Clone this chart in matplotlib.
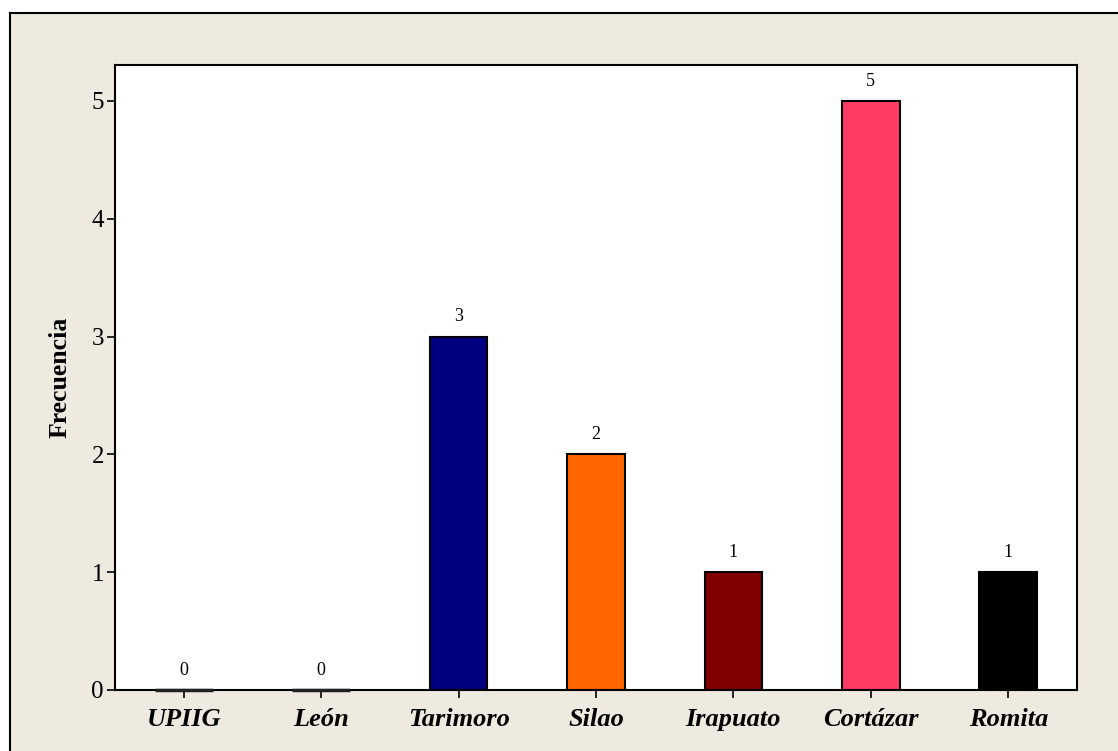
import numpy as np
import matplotlib.pyplot as plt
from matplotlib.patches import Rectangle
from matplotlib.lines import Line2D

plt.rcParams['font.family'] = ['Liberation Serif', 'DejaVu Serif']

municipios = ['UPIIG', 'León', 'Tarimoro', 'Silao', 'Irapuato', 'Cortázar', 'Romita']
frecuencia = [0, 0, 3, 2, 1, 5, 1]
colores = ['#000080', '#000080', '#000080', '#FF6600', '#800000', '#FF3B66', '#000000']

fig = plt.figure(figsize=(11.18, 7.51), dpi=100)
fig.patch.set_facecolor('white')

# beige panel behind the axes, framed on left and top
x0, y1 = 10 / 1118, 1 - 13 / 751
fig.patches.append(Rectangle((x0, 0), 1 - x0, y1, transform=fig.transFigure,
                             facecolor='#EEEAE0', edgecolor='none', zorder=-10))
fig.lines.append(Line2D([x0, x0], [0, y1], transform=fig.transFigure, color='black', lw=1.5))
fig.lines.append(Line2D([x0, 1], [y1, y1], transform=fig.transFigure, color='black', lw=1.5))

ax = fig.add_axes([115 / 1118, 61 / 751, 962 / 1118, 625 / 751])
ax.set_facecolor('white')

x = np.arange(len(municipios))
bars = ax.bar(x, frecuencia, width=0.42, color=colores, edgecolor='black', linewidth=1.5)

# zero-height bars still show as a short dark stroke on the baseline
for xi, v in zip(x, frecuencia):
    if v == 0:
        ax.plot([xi - 0.21, xi + 0.21], [0, 0], color='#222222', lw=2.5,
                solid_capstyle='butt', clip_on=False, zorder=3)

for xi, v in zip(x, frecuencia):
    ax.annotate(str(v), (xi, v), xytext=(0, 8), textcoords='offset points',
                ha='center', va='bottom', fontsize=13)

ax.set_xlim(-0.5, 6.5)
ax.set_ylim(0, 5.305)
ax.set_yticks(range(6))
ax.set_xticks(x)
ax.set_xticklabels(municipios, fontsize=19, fontweight='bold', fontstyle='italic')
ax.tick_params(axis='y', labelsize=18, length=6, width=1.2, pad=2)
ax.tick_params(axis='x', length=6, width=1.2, pad=7)
ax.set_ylabel('Frecuencia', fontsize=18.5, fontweight='bold', labelpad=14)

for s in ax.spines.values():
    s.set_linewidth(1.5)

fig.savefig('out.png', dpi=100)
